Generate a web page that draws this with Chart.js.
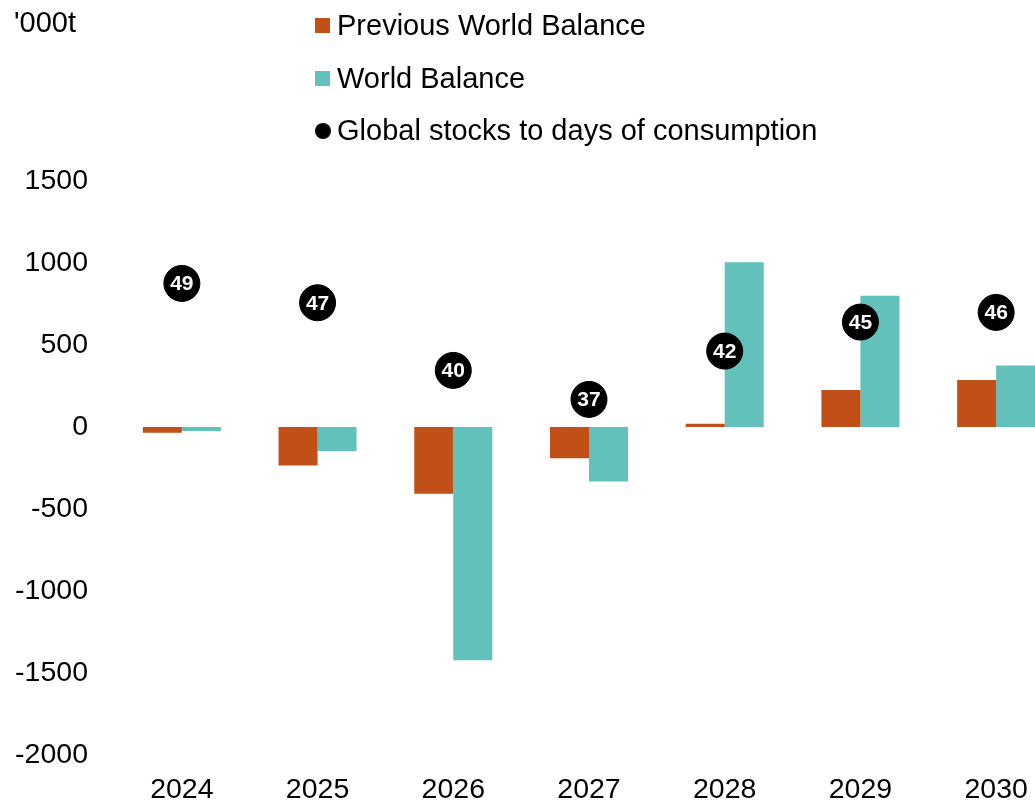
<!DOCTYPE html>
<html>
<head>
<meta charset="utf-8">
<script src="https://cdn.jsdelivr.net/npm/chart.js@4"></script>
<style>
html,body{margin:0;padding:0;background:#fff;overflow:hidden;width:1035px;height:805px;}
#wrap{position:absolute;left:0;top:0;width:1064px;height:805px;}
#unit{position:absolute;left:14px;top:8px;font:29px "Liberation Sans",Arial,sans-serif;color:#000;line-height:1;}
.leg{position:absolute;left:315px;font:29px "Liberation Sans",Arial,sans-serif;color:#000;display:flex;align-items:center;white-space:nowrap;line-height:1;}
.sw{width:15px;height:15px;margin-right:7px;flex:none;}
</style>
</head>
<body>
<div id="wrap"><canvas id="c" width="1064" height="805"></canvas></div>
<div id="unit">'000t</div>
<div id="legend"></div>
<script>
const categories = ['2024', '2025', '2026', '2027', '2028', '2029', '2030'];
const previousWorldBalance = [-35, -234, -407, -191, 20, 226, 287];
const worldBalance = [-25, -146, -1423, -333, 1005, 800, 375];
const stockDays = [49, 47, 40, 37, 42, 45, 46];
const yTicks = [1500, 1000, 500, 0, -500, -1000, -1500, -2000];
const seriesNames = ['Previous World Balance', 'World Balance', 'Global stocks to days of consumption'];
const seriesColors = ['#C05017', '#62C1BA', '#000000'];

const FONT = '"Liberation Sans", Arial, sans-serif';

// HTML legend
const legend = document.getElementById('legend');
const legendTops = [11, 64, 116];
seriesNames.forEach((name, i) => {
  const d = document.createElement('div');
  d.className = 'leg';
  d.style.top = legendTops[i] + 'px';
  const sw = document.createElement('span');
  sw.className = 'sw';
  sw.style.background = seriesColors[i];
  if (i === 2) { sw.style.borderRadius = '50%'; sw.style.width = '16px'; sw.style.height = '16px'; sw.style.marginRight = '6px'; }
  d.appendChild(sw);
  const t = document.createElement('span');
  t.textContent = name;
  d.appendChild(t);
  legend.appendChild(d);
});

const pointLabels = {
  id: 'pointLabels',
  afterDatasetsDraw(chart) {
    const ctx = chart.ctx;
    chart.data.datasets.forEach((ds, di) => {
      if (ds.type !== 'line') return;
      const meta = chart.getDatasetMeta(di);
      ctx.save();
      ctx.fillStyle = '#ffffff';
      ctx.font = 'bold 21px ' + FONT;
      ctx.textAlign = 'center';
      ctx.textBaseline = 'middle';
      meta.data.forEach((pt, i) => {
        ctx.fillText(String(ds.data[i]), pt.x, pt.y + 1);
      });
      ctx.restore();
    });
  }
};

new Chart(document.getElementById('c'), {
  type: 'bar',
  data: {
    labels: categories,
    datasets: [
      {
        type: 'line',
        label: seriesNames[2],
        data: stockDays,
        yAxisID: 'y2',
        showLine: false,
        pointRadius: 18,
        pointHoverRadius: 18,
        pointBackgroundColor: seriesColors[2],
        pointBorderColor: seriesColors[2],
        pointBorderWidth: 1,
        order: 0
      },
      {
        label: seriesNames[0],
        data: previousWorldBalance,
        backgroundColor: seriesColors[0],
        yAxisID: 'y',
        order: 1,
        barPercentage: 1,
        categoryPercentage: 0.575
      },
      {
        label: seriesNames[1],
        data: worldBalance,
        backgroundColor: seriesColors[1],
        yAxisID: 'y',
        order: 1,
        barPercentage: 1,
        categoryPercentage: 0.575
      }
    ]
  },
  options: {
    responsive: false,
    maintainAspectRatio: false,
    animation: false,
    layout: { autoPadding: false, padding: { top: 181, left: 0, right: 0, bottom: 0 } },
    plugins: { legend: { display: false }, tooltip: { enabled: false }, title: { display: false } },
    scales: {
      x: {
        grid: { display: false, drawTicks: false },
        border: { display: false },
        ticks: { color: '#000', font: { family: FONT, size: 28.5 }, padding: 18, maxRotation: 0 },
        afterFit(s) { s.height = 50; }
      },
      y: {
        position: 'left',
        min: -2000,
        max: 1500,
        grid: { display: false, drawTicks: false },
        border: { display: false },
        ticks: { color: '#000', font: { family: FONT, size: 28.5 }, padding: 26, callback: v => String(v) },
        afterBuildTicks(s) { s.ticks = yTicks.map(v => ({ value: v })); },
        afterFit(s) { s.width = 114; }
      },
      y2: {
        display: false,
        min: 0.2,
        max: 59.6
      }
    }
  },
  plugins: [pointLabels]
});
</script>
</body>
</html>
